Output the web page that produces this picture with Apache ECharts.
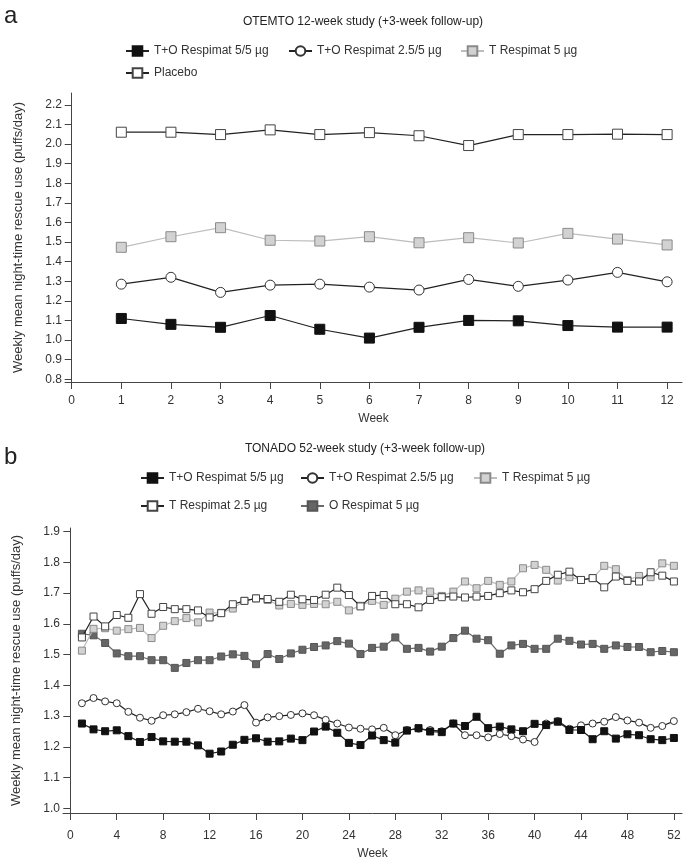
<!DOCTYPE html>
<html>
<head>
<meta charset="utf-8">
<script src="https://cdn.jsdelivr.net/npm/echarts@6/dist/echarts.min.js"></script>
<style>
html,body{margin:0;padding:0;background:#fff;}
#c{width:685px;height:861px;}
</style>
</head>
<body>
<div id="c"></div>
<script>
// ---------- data ----------
const aWeeks = [1,2,3,4,5,6,7,8,9,10,11,12];
const aTO55 = [1.11,1.08,1.065,1.125,1.055,1.01,1.065,1.10,1.098,1.074,1.066,1.066];
const aTO255 = [1.285,1.32,1.243,1.28,1.285,1.27,1.255,1.309,1.274,1.306,1.345,1.297];
const aT5 = [1.473,1.527,1.573,1.509,1.505,1.527,1.496,1.522,1.495,1.544,1.515,1.485];
const aPlacebo = [2.06,2.06,2.048,2.072,2.048,2.058,2.042,1.992,2.048,2.048,2.05,2.048];
const aXTicks = [0,1,2,3,4,5,6,7,8,9,10,11,12];
const aYTicks = [0.8,0.9,1.0,1.1,1.2,1.3,1.4,1.5,1.6,1.7,1.8,1.9,2.0,2.1,2.2];

const bWeeks = [1,2,3,4,5,6,7,8,9,10,11,12,13,14,15,16,17,18,19,20,21,22,23,24,25,26,27,28,29,30,31,32,33,34,35,36,37,38,39,40,41,42,43,44,45,46,47,48,49,50,51,52];
const bTO55 = [1.276,1.257,1.251,1.254,1.235,1.216,1.232,1.218,1.217,1.217,1.205,1.178,1.185,1.207,1.223,1.228,1.217,1.218,1.227,1.222,1.250,1.266,1.246,1.213,1.206,1.237,1.222,1.214,1.253,1.261,1.250,1.248,1.276,1.268,1.298,1.261,1.266,1.257,1.251,1.275,1.271,1.282,1.255,1.255,1.225,1.251,1.227,1.241,1.238,1.225,1.222,1.229];
const bTO255 = [1.342,1.359,1.348,1.342,1.314,1.295,1.285,1.303,1.306,1.313,1.324,1.316,1.306,1.315,1.336,1.279,1.296,1.300,1.304,1.309,1.303,1.288,1.276,1.263,1.259,1.257,1.262,1.238,1.255,1.259,1.255,1.251,1.276,1.238,1.238,1.231,1.242,1.235,1.224,1.216,1.276,1.284,1.259,1.270,1.276,1.282,1.297,1.286,1.279,1.262,1.268,1.284];
const bT5 = [1.513,1.584,1.586,1.578,1.583,1.587,1.554,1.594,1.609,1.619,1.605,1.637,1.636,1.650,1.675,1.683,1.678,1.660,1.665,1.662,1.665,1.664,1.672,1.644,1.659,1.675,1.662,1.682,1.705,1.709,1.705,1.691,1.705,1.738,1.716,1.740,1.727,1.738,1.781,1.792,1.776,1.741,1.752,1.743,1.749,1.789,1.778,1.743,1.756,1.752,1.797,1.789];
const bT25 = [1.556,1.624,1.592,1.629,1.620,1.697,1.633,1.655,1.648,1.648,1.644,1.621,1.635,1.664,1.675,1.683,1.681,1.672,1.695,1.680,1.678,1.695,1.718,1.694,1.657,1.691,1.694,1.664,1.664,1.654,1.678,1.687,1.689,1.686,1.689,1.691,1.700,1.709,1.703,1.713,1.740,1.760,1.770,1.743,1.749,1.719,1.754,1.740,1.738,1.768,1.757,1.738];
const bO5 = [1.568,1.563,1.538,1.504,1.495,1.495,1.482,1.482,1.457,1.473,1.482,1.482,1.494,1.501,1.496,1.469,1.502,1.486,1.504,1.516,1.525,1.530,1.544,1.536,1.502,1.522,1.526,1.556,1.519,1.522,1.510,1.526,1.554,1.578,1.552,1.547,1.503,1.530,1.535,1.519,1.519,1.552,1.545,1.533,1.535,1.519,1.530,1.525,1.525,1.508,1.512,1.508];
const bXTicks = [0,4,8,12,16,20,24,28,32,36,40,44,48,52];
const bYTicks = [1.0,1.1,1.2,1.3,1.4,1.5,1.6,1.7,1.8,1.9];

const names = {
  to55: 'T+O Respimat 5/5 µg',
  to255: 'T+O Respimat 2.5/5 µg',
  t5: 'T Respimat 5 µg',
  placebo: 'Placebo',
  t25: 'T Respimat 2.5 µg',
  o5: 'O Respimat 5 µg'
};
const titleA = 'OTEMTO 12-week study (+3-week follow-up)';
const titleB = 'TONADO 52-week study (+3-week follow-up)';
const yName = 'Weekly mean night-time rescue use (puffs/day)';

// ---------- styles ----------
const FONT = 'Liberation Sans, Arial, sans-serif';
const styles = {
  to55: {symbol:'rect', line:'#222', fill:'#111', border:'#111'},
  to255: {symbol:'circle', line:'#222', fill:'#fff', border:'#333'},
  t5: {symbol:'rect', line:'#bdbdbd', fill:'#d2d2d2', border:'#8a8a8a'},
  placebo: {symbol:'rect', line:'#222', fill:'#fff', border:'#444'},
  t25: {symbol:'rect', line:'#222', fill:'#fff', border:'#444'},
  o5: {symbol:'rect', line:'#6a6a6a', fill:'#666', border:'#555'}
};

function mk(key, weeks, vals, idx, size, z) {
  const s = styles[key];
  return {
    name: names[key], type: 'line', xAxisIndex: idx, yAxisIndex: idx,
    data: weeks.map((w,i)=>[w, vals[i]]),
    symbol: s.symbol, symbolSize: size, showAllSymbol: true,
    lineStyle: {color: s.line, width: 1.2},
    itemStyle: {color: s.fill, borderColor: s.border, borderWidth: 1},
    emphasis: {disabled: true}, animation: false, z: z
  };
}

const axisCommon = {
  axisLine: {show: true, lineStyle: {color: '#444', width: 1}},
  splitLine: {show: false}
};

function xAxis(idx, min, max, ticks, gap, margin) {
  return Object.assign({}, axisCommon, {
    type: 'value', gridIndex: idx, min: min, max: max,
    name: 'Week', nameLocation: 'middle', nameGap: gap,
    nameTextStyle: {color: '#333', fontSize: 12, fontFamily: FONT},
    axisTick: {show: true, length: 7, lineStyle: {color: '#444'}, customValues: ticks},
    axisLabel: {color: '#333', fontSize: 12, fontFamily: FONT, margin: margin, customValues: ticks, formatter: v => String(v)}
  });
}
function yAxis(idx, min, max, ticks, gap) {
  return Object.assign({}, axisCommon, {
    type: 'value', gridIndex: idx, min: min, max: max,
    name: yName, nameLocation: 'middle', nameGap: gap, nameRotate: 90,
    nameTextStyle: {color: '#333', fontSize: 13, fontFamily: FONT},
    axisTick: {show: true, length: 7, lineStyle: {color: '#444'}, customValues: ticks},
    axisLabel: {color: '#333', fontSize: 12, fontFamily: FONT, margin: 3, customValues: ticks, formatter: v => v.toFixed(1)}
  });
}

function leg(key, left, top) {
  return {
    data: [names[key]], left: left, top: top, padding: 0,
    itemWidth: 23, itemHeight: 12, itemGap: 0, selectedMode: false,
    textStyle: {color: '#333', fontSize: 12, fontFamily: FONT}
  };
}

const chart = echarts.init(document.getElementById('c'), null, {renderer: 'canvas'});
chart.setOption({
  backgroundColor: '#fff',
  animation: false,
  grid: [
    {left: 65, right: 3, top: 93, bottom: 479},
    {left: 63, right: 3, top: 528, bottom: 47}
  ],
  xAxis: [
    xAxis(0, -0.135, 12.3, aXTicks, 31, 13),
    xAxis(1, -0.63, 52.7, bXTicks, 35, 17)
  ],
  yAxis: [
    yAxis(0, 0.786, 2.26, aYTicks, 40),
    yAxis(1, 0.985, 1.912, bYTicks, 40)
  ],
  legend: [
    leg('to55', 125, 45), leg('to255', 288, 45), leg('t5', 460, 45), leg('placebo', 125, 67),
    leg('to55', 140, 472), leg('to255', 300, 472), leg('t5', 473, 472), leg('t25', 140, 500), leg('o5', 300, 500)
  ],
  graphic: [
    {type: 'text', style: {text: 'a', x: 4, y: 16, fontSize: 24, fontFamily: FONT, fill: '#222', verticalAlign: 'middle'}},
    {type: 'text', style: {text: titleA, x: 363, y: 22, fontSize: 12, fontFamily: FONT, fill: '#222', align: 'center', verticalAlign: 'middle'}},
    {type: 'text', style: {text: 'b', x: 4, y: 457, fontSize: 24, fontFamily: FONT, fill: '#222', verticalAlign: 'middle'}},
    {type: 'text', style: {text: titleB, x: 365, y: 449, fontSize: 12, fontFamily: FONT, fill: '#222', align: 'center', verticalAlign: 'middle'}}
  ],
  series: [
    mk('t5', aWeeks, aT5, 0, 10, 2),
    mk('placebo', aWeeks, aPlacebo, 0, 10, 3),
    mk('to255', aWeeks, aTO255, 0, 10, 4),
    mk('to55', aWeeks, aTO55, 0, 10, 5),
    mk('o5', bWeeks, bO5, 1, 7, 2),
    mk('t5', bWeeks, bT5, 1, 7, 3),
    mk('t25', bWeeks, bT25, 1, 7, 4),
    mk('to255', bWeeks, bTO255, 1, 7, 5),
    mk('to55', bWeeks, bTO55, 1, 7, 6)
  ]
});
</script>
</body>
</html>
